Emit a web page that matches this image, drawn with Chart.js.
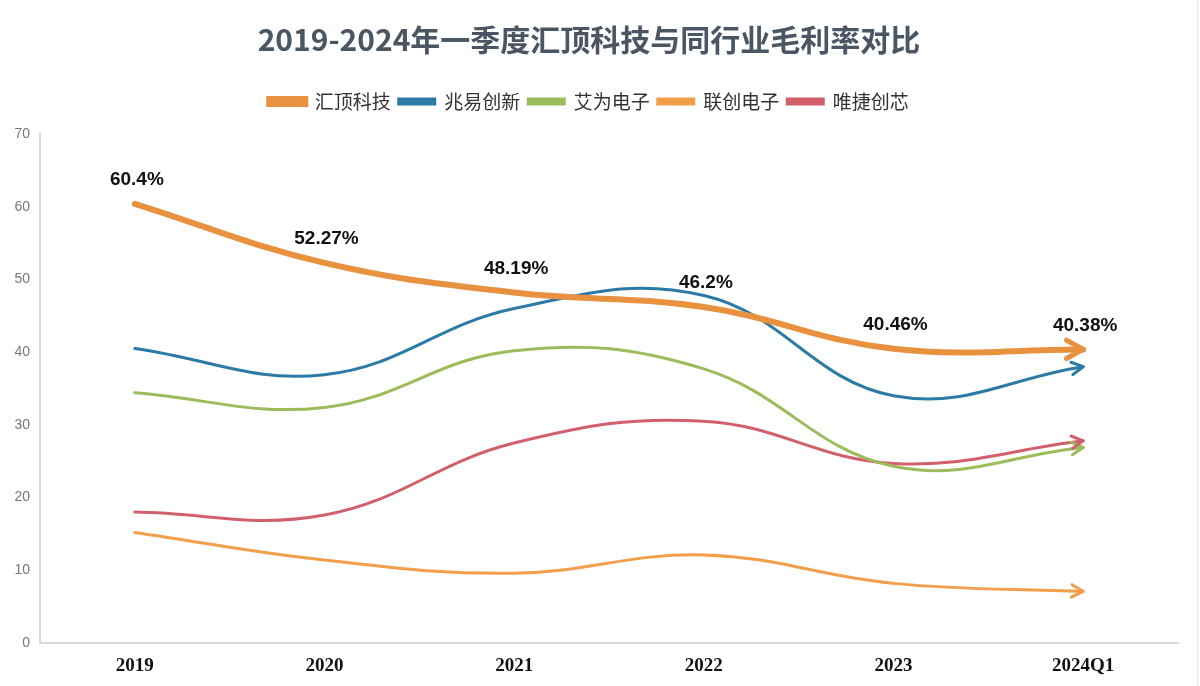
<!DOCTYPE html>
<html>
<head>
<meta charset="utf-8">
<script src="https://cdn.jsdelivr.net/npm/chart.js@4/dist/chart.umd.min.js"></script>
<style>
  html, body { margin: 0; padding: 0; background: #fff; }
  #wrap { width: 1200px; height: 686px; position: relative; }
  #edge { position: absolute; left: 1197px; top: 0; width: 1px; height: 686px; background: #e4e4e4; }
</style>
</head>
<body>
<div id="wrap"><canvas id="chart" width="1200" height="686"></canvas><div id="edge"></div></div>
<script>
// categories and values
let years = ["2019", "2020", "2021", "2022", "2023", "2024Q1"];
let yTicks = [0, 10, 20, 30, 40, 50, 60, 70];

let huiding = [60.4, 52.27, 48.19, 46.2, 40.46, 40.38];
let zhaoyi = [40.5, 36.9, 46.0, 47.8, 34.0, 38.0];
let aiwei = [34.4, 32.4, 40.2, 37.7, 24.3, 26.9];
let lianchuang = [15.2, 11.4, 9.6, 12.1, 8.2, 7.1];
let weijie = [18.0, 17.6, 27.5, 30.5, 24.7, 27.8];

let names = ["汇顶科技", "兆易创新", "艾为电子", "联创电子", "唯捷创芯"];
let colors = ['#E8913F', '#2B7BA6', '#9CBB5A', '#F39E4A', '#D1606C'];

function ds(i, data, w) {
    return {
        label: names[i],
        data: data,
        borderColor: colors[i],
        backgroundColor: colors[i],
        borderWidth: w,
        borderCapStyle: 'round',
        tension: 0.4,
        pointRadius: 0,
        pointHoverRadius: 0,
        fill: false
    }
}

// arrow heads at the end of every line
let arrows = {
    id: 'arrows',
    afterDatasetsDraw(chart) {
        let c = chart.ctx;
        chart.data.datasets.forEach((d, i) => {
            let meta = chart.getDatasetMeta(i);
            let pts = meta.data;
            let p = pts[pts.length - 1];
            let q = pts[pts.length - 2];
            let cx = p.cp1x != null ? p.cp1x : q.x;
            let cy = p.cp1y != null ? p.cp1y : q.y;
            let a = Math.atan2(p.y - cy, p.x - cx);
            let len = i == 0 ? 19 : 13;
            c.save();
            c.strokeStyle = d.borderColor;
            c.lineWidth = i == 0 ? 5 : 3;
            c.lineCap = 'round';
            c.lineJoin = 'round';
            c.beginPath();
            c.moveTo(p.x - len * Math.cos(a - 0.5), p.y - len * Math.sin(a - 0.5));
            c.lineTo(p.x, p.y);
            c.lineTo(p.x - len * Math.cos(a + 0.5), p.y - len * Math.sin(a + 0.5));
            c.stroke();
            c.restore();
        });
    }
};

// value labels above the 汇顶科技 line
let valueLabels = {
    id: 'valueLabels',
    afterDatasetsDraw(chart) {
        let c = chart.ctx;
        let meta = chart.getDatasetMeta(0);
        c.save();
        c.font = 'bold 19px "Liberation Sans", Arial, sans-serif';
        c.fillStyle = '#111';
        c.textAlign = 'center';
        c.textBaseline = 'middle';
        meta.data.forEach((p, j) => {
            c.fillText(huiding[j] + '%', p.x + 2, p.y - 24);
        });
        c.restore();
    }
};

// a bit more room under the legend
let legendGap = {
    id: 'legendGap',
    beforeInit(chart) {
        let fit = chart.legend.fit;
        chart.legend.fit = function () {
            fit.call(this);
            this.height += 13;
        };
    }
};

let ctx = document.getElementById('chart').getContext('2d');
let chart = new Chart(ctx, {
    type: 'line',
    data: {
        labels: years,
        datasets: [
            ds(0, huiding, 6),
            ds(1, zhaoyi, 3),
            ds(2, aiwei, 3),
            ds(3, lianchuang, 3),
            ds(4, weijie, 3)
        ]
    },
    options: {
        responsive: false,
        animation: false,
        layout: { padding: { left: 0, right: 22, top: 0, bottom: 0 } },
        plugins: {
            title: {
                display: true,
                text: '2019-2024年一季度汇顶科技与同行业毛利率对比',
                color: '#4A5663',
                font: { size: 30, weight: 'bold', family: '"Noto Sans CJK SC", sans-serif' },
                padding: { top: 22, bottom: 26 }
            },
            legend: {
                display: true,
                labels: {
                    boxWidth: 36,
                    boxHeight: 5,
                    padding: 8,
                    color: '#333',
                    font: { size: 19, family: '"Noto Sans CJK SC", sans-serif' }
                }
            },
            tooltip: { enabled: false }
        },
        scales: {
            x: {
                offset: true,
                grid: { display: false, drawTicks: false },
                border: { display: true, color: '#d9d9d9', width: 2 },
                ticks: {
                    color: '#111',
                    padding: 12,
                    font: { size: 19, weight: 'bold', family: '"Liberation Serif", serif' }
                },
                afterFit(s) { s.height = 43; }
            },
            y: {
                min: 0,
                max: 70,
                afterBuildTicks(s) { s.ticks = yTicks.map(v => ({ value: v })); },
                grid: { display: false, drawTicks: false },
                border: { display: true, color: '#d9d9d9', width: 2 },
                ticks: {
                    color: '#777',
                    padding: 10,
                    font: { size: 14, family: '"Liberation Sans", Arial, sans-serif' }
                },
                afterFit(s) { s.width = 40; }
            }
        }
    },
    plugins: [arrows, valueLabels, legendGap]
});
</script>
</body>
</html>
